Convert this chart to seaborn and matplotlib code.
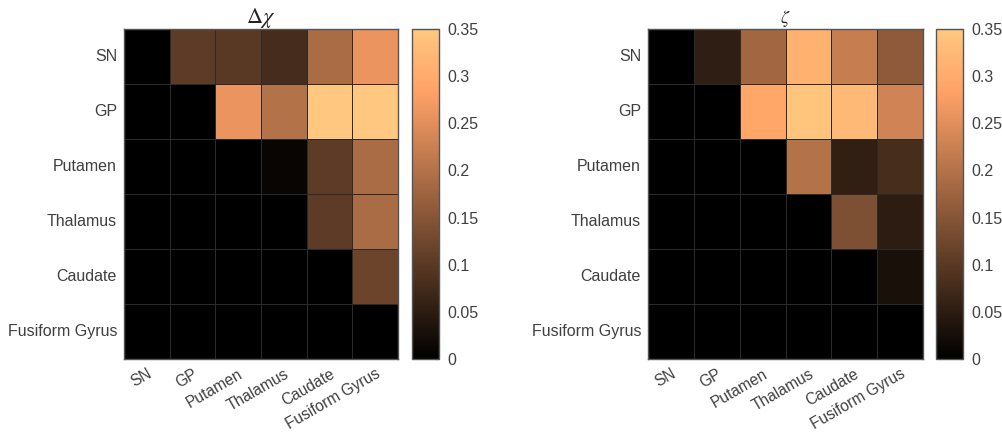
import numpy as np
import pandas as pd
import matplotlib
matplotlib.use("Agg")
import matplotlib.pyplot as plt
import seaborn as sns

regions = ["SN", "GP", "Putamen", "Thalamus", "Caudate", "Fusiform Gyrus"]

dchi_SN = [0.0, 0.105, 0.100, 0.077, 0.190, 0.260]
dchi_GP = [0.0, 0.0, 0.260, 0.200, 0.360, 0.360]
dchi_Put = [0.0, 0.0, 0.0, 0.010, 0.105, 0.190]
dchi_Thal = [0.0, 0.0, 0.0, 0.0, 0.105, 0.190]
dchi_Cau = [0.0, 0.0, 0.0, 0.0, 0.0, 0.120]
dchi_Fus = [0.0, 0.0, 0.0, 0.0, 0.0, 0.0]

zeta_SN = [0.0, 0.053, 0.180, 0.310, 0.220, 0.158]
zeta_GP = [0.0, 0.0, 0.290, 0.345, 0.325, 0.230]
zeta_Put = [0.0, 0.0, 0.0, 0.200, 0.056, 0.078]
zeta_Thal = [0.0, 0.0, 0.0, 0.0, 0.140, 0.050]
zeta_Cau = [0.0, 0.0, 0.0, 0.0, 0.0, 0.030]
zeta_Fus = [0.0, 0.0, 0.0, 0.0, 0.0, 0.0]

cbar_ticks = [0, 0.05, 0.1, 0.15, 0.2, 0.25, 0.3, 0.35]
cbar_labels = ["0", "0.05", "0.1", "0.15", "0.2", "0.25", "0.3", "0.35"]

dchi = pd.DataFrame([dchi_SN, dchi_GP, dchi_Put, dchi_Thal, dchi_Cau, dchi_Fus],
                    index=regions, columns=regions)
zeta = pd.DataFrame([zeta_SN, zeta_GP, zeta_Put, zeta_Thal, zeta_Cau, zeta_Fus],
                    index=regions, columns=regions)

sns.set_theme(style="white")
plt.rcParams['font.family'] = ['Liberation Sans', 'DejaVu Sans']
plt.rcParams['mathtext.fontset'] = 'stix'

W, H = 1003, 432
fig = plt.figure(figsize=(W / 100, H / 100), dpi=100)

def fx(px):
    return px / W

def fy(top, bottom):
    return (H - bottom) / H, (bottom - top) / H

txt = '#404040'
panels = [
    (dchi, r'$\Delta\chi$', 124, 398, 412, 439, 16),
    (zeta, r'$\zeta$', 648, 923, 936, 963, 13),
]
for data, title, axl, axr, cbl, cbr, tsize in panels:
    b, h = fy(29, 359)
    ax = fig.add_axes([fx(axl), b, fx(axr - axl), h])
    cax = fig.add_axes([fx(cbl), b, fx(cbr - cbl), h])
    sns.heatmap(data, ax=ax, cbar_ax=cax, cmap="copper", vmin=0, vmax=0.35,
                linewidths=0.6, linecolor='#2a2a2a', square=False)
    ax.set_title(title, fontsize=tsize, color='#222222', pad=4)
    ax.tick_params(axis='y', length=0, labelsize=11.5, colors=txt, pad=5)
    ax.tick_params(axis='x', length=0, labelsize=11.2, colors=txt, pad=5)
    ax.set_yticklabels(regions, rotation=0, color=txt)
    ax.set_xticklabels(regions, rotation=30, ha='right', va='top',
                       rotation_mode='anchor', color=txt)
    for s in ax.spines.values():
        s.set_visible(True)
        s.set_color('#555555')
        s.set_linewidth(1.0)
    cb = ax.collections[0].colorbar
    cb.set_ticks(cbar_ticks)
    cb.set_ticklabels(cbar_labels)
    cax.tick_params(axis='y', direction='in', length=3, width=0.8, labelsize=11.5,
                    colors=txt, pad=6)
    cb.outline.set_visible(True)
    cb.outline.set_edgecolor('#555555')
    cb.outline.set_linewidth(1.0)

fig.savefig("out.png", dpi=100, facecolor='white')
